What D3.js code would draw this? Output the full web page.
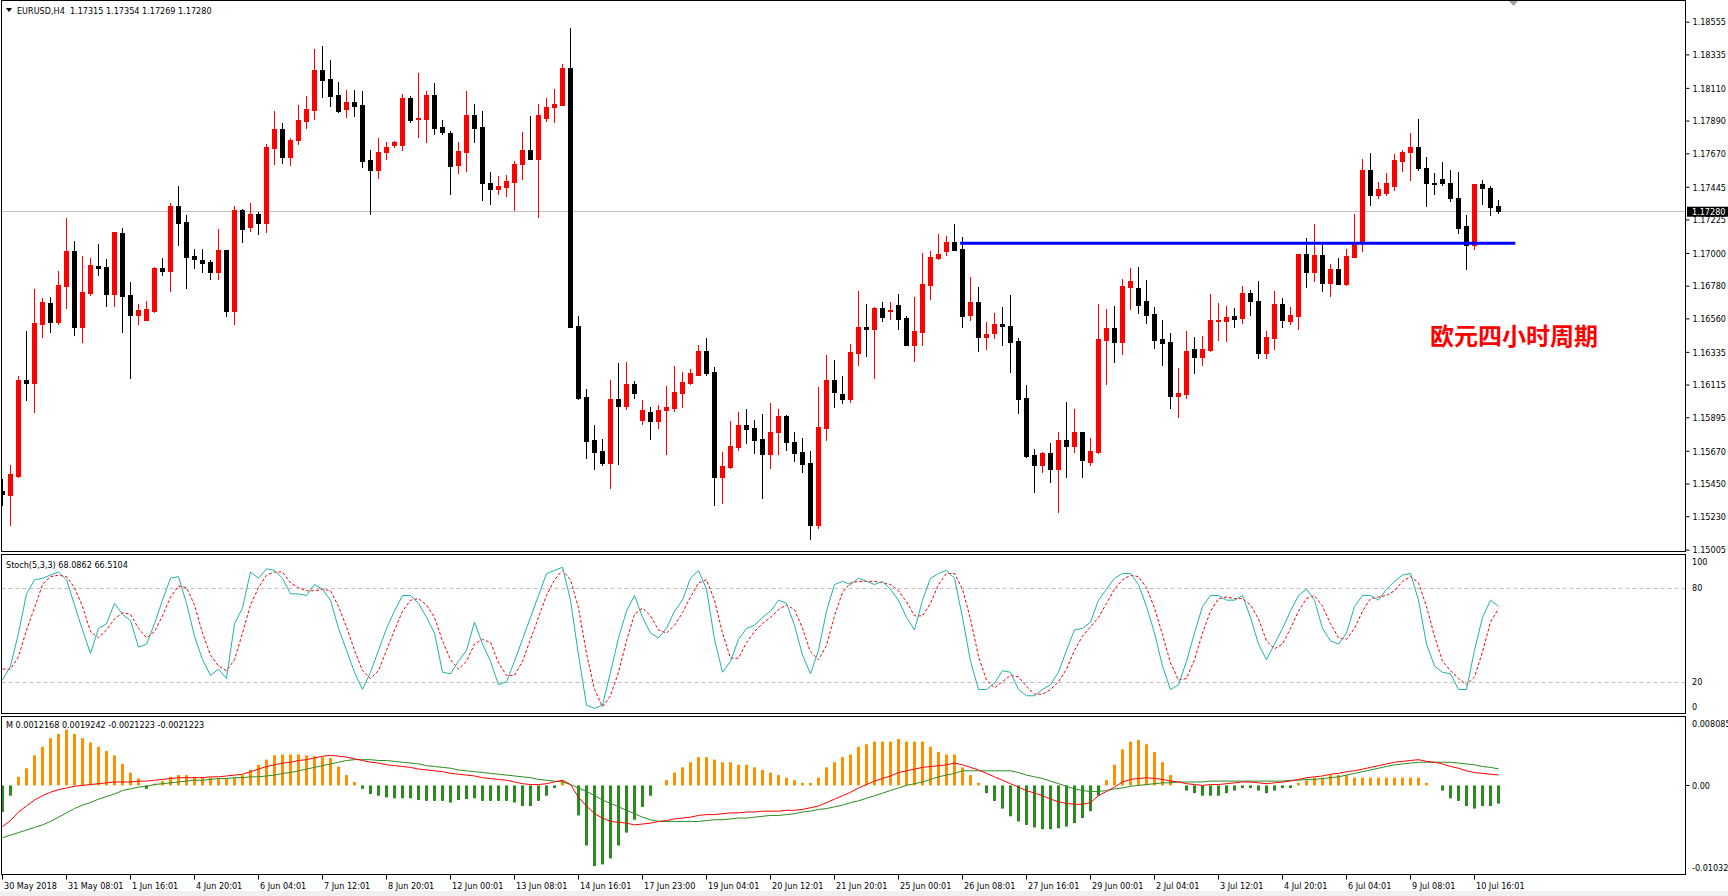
<!DOCTYPE html>
<html>
<head>
<meta charset="utf-8">
<script src="https://cdn.jsdelivr.net/npm/d3@7"></script>
<style>
  body { margin: 0; background: #fff; overflow: hidden; }
  svg text { font-family: "DejaVu Sans Condensed", "DejaVu Sans", sans-serif; font-size: 9px; fill: #000; }
</style>
</head>
<body>
<svg id="chart" width="1728" height="896"></svg>
<script>
// EURUSD H4 candles (bar 0 = 30 May 2018 00:00)
const open = [1.15401,1.15374,1.15498,1.16146,1.16127,1.16525,1.16664,1.16537,1.16778,1.17014,
  1.16505,1.16732,1.16912,1.16906,1.16726,1.17135,1.16714,1.16585,1.16550,1.16612,
  1.16898,1.16880,1.17316,1.17207,1.16980,1.16953,1.16939,1.16869,1.17021,1.16612,
  1.17289,1.17175,1.17262,1.17203,1.17707,1.17835,1.17642,1.17762,1.17889,1.17958,
  1.18230,1.18169,1.18062,1.17971,1.18014,1.17996,1.17626,1.17560,1.17676,1.17727,
  1.17727,1.18042,1.17905,1.17903,1.18062,1.17846,1.17808,1.17593,1.17680,1.17928,
  1.17846,1.17471,1.17432,1.17446,1.17480,1.17601,1.17692,1.17630,1.17910,1.17978,
  1.17998,1.18244,1.16510,1.16032,1.15742,1.15669,1.15590,1.16019,1.15973,1.16119,
  1.15874,1.15931,1.15867,1.15946,1.15960,1.16059,1.16125,1.16176,1.16341,1.16200,
  1.15496,1.15562,1.15698,1.15843,1.15823,1.15748,1.15651,1.15799,1.15903,1.15726,
  1.15662,1.15587,1.15174,1.15826,1.16146,1.16053,1.16021,1.16330,1.16503,1.16490,
  1.16631,1.16614,1.16651,1.16562,1.16378,1.16471,1.16787,1.16966,1.17010,1.17073,
  1.17028,1.16585,1.16671,1.16437,1.16464,1.16523,1.16510,1.16409,1.16026,1.15641,
  1.15571,1.15656,1.15544,1.15742,1.15705,1.15799,1.15596,1.15662,1.16417,1.16496,
  1.16403,1.16771,1.16765,1.16678,1.16589,1.16424,1.16400,1.16041,1.16053,1.16355,
  1.16303,1.16349,1.16546,1.16543,1.16576,1.16562,1.16730,1.16678,1.16330,1.16428,
  1.16657,1.16543,1.16576,1.16994,1.16871,1.16987,1.16798,1.16891,1.16792,1.16974,
  1.17067,1.17560,1.17392,1.17405,1.17450,1.17621,1.17676,1.17712,1.17573,1.17471,
  1.17498,1.17471,1.17369,1.17183,1.17055,1.17465,1.17439,1.17315];
const high = [1.15480,1.15571,1.16173,1.16475,1.16757,1.16699,1.16703,1.16878,1.17234,1.17080,
  1.16980,1.16966,1.17060,1.16959,1.17142,1.17168,1.16805,1.16657,1.16678,1.16906,
  1.16966,1.17337,1.17450,1.17256,1.17028,1.17028,1.16953,1.17162,1.17021,1.17316,
  1.17296,1.17337,1.17276,1.17732,1.17955,1.17873,1.17773,1.17996,1.18055,1.18371,
  1.18392,1.18299,1.18150,1.18096,1.18096,1.18090,1.17692,1.17773,1.17744,1.17753,
  1.18068,1.18055,1.18209,1.18090,1.18143,1.17894,1.17821,1.17746,1.18090,1.18000,
  1.17955,1.17544,1.17516,1.17523,1.17619,1.17815,1.17921,1.18000,1.18042,1.18103,
  1.18273,1.18512,1.16576,1.16085,1.15843,1.15748,1.16146,1.16259,1.16266,1.16140,
  1.16012,1.15964,1.15978,1.16105,1.16239,1.16200,1.16219,1.16380,1.16428,1.16232,
  1.15662,1.15872,1.15931,1.15951,1.15878,1.15916,1.15991,1.15951,1.15909,1.15796,
  1.15757,1.15669,1.16098,1.16314,1.16281,1.16173,1.16387,1.16744,1.16657,1.16637,
  1.16671,1.16671,1.16723,1.16576,1.16703,1.17003,1.17014,1.17128,1.17115,1.17194,
  1.17107,1.16840,1.16771,1.16537,1.16596,1.16637,1.16717,1.16428,1.16112,1.15682,
  1.15662,1.15724,1.15796,1.15999,1.15951,1.15799,1.15757,1.16657,1.16624,1.16644,
  1.16825,1.16898,1.16906,1.16818,1.16637,1.16548,1.16462,1.16226,1.16475,1.16435,
  1.16442,1.16723,1.16664,1.16644,1.16631,1.16778,1.16750,1.16812,1.16475,1.16744,
  1.16699,1.16637,1.16994,1.17100,1.17194,1.17067,1.16926,1.16966,1.17028,1.17262,
  1.17632,1.17674,1.17478,1.17537,1.17666,1.17692,1.17808,1.17901,1.17646,1.17537,
  1.17612,1.17557,1.17544,1.17256,1.17465,1.17491,1.17450,1.17354];
const low = [1.15306,1.15174,1.15494,1.16014,1.15931,1.16435,1.16471,1.16519,1.16633,1.16451,
  1.16403,1.16719,1.16849,1.16646,1.16646,1.16471,1.16162,1.16525,1.16550,1.16605,
  1.16855,1.16746,1.17055,1.16767,1.16898,1.16873,1.16827,1.16827,1.16578,1.16519,
  1.17076,1.17148,1.17130,1.17142,1.17601,1.17608,1.17593,1.17734,1.17837,1.17903,
  1.18051,1.17985,1.17951,1.17916,1.17923,1.17580,1.17264,1.17507,1.17635,1.17714,
  1.17692,1.17883,1.17782,1.17749,1.17802,1.17802,1.17399,1.17539,1.17553,1.17749,
  1.17353,1.17326,1.17394,1.17384,1.17291,1.17500,1.17630,1.17243,1.17889,1.17883,
  1.17998,1.16499,1.16021,1.15623,1.15544,1.15571,1.15421,1.15583,1.15953,1.16028,
  1.15852,1.15751,1.15826,1.15651,1.15940,1.15966,1.16119,1.16176,1.16180,1.15308,
  1.15321,1.15551,1.15678,1.15719,1.15658,1.15355,1.15555,1.15651,1.15678,1.15603,
  1.15530,1.15075,1.15148,1.15745,1.15966,1.15994,1.16001,1.16248,1.16310,1.16162,
  1.16543,1.16558,1.16492,1.16378,1.16276,1.16382,1.16692,1.16959,1.16983,1.17021,
  1.16505,1.16550,1.16344,1.16351,1.16430,1.16382,1.16202,1.15926,1.15630,1.15396,
  1.15530,1.15462,1.15260,1.15496,1.15665,1.15496,1.15571,1.15658,1.16121,1.16268,
  1.16321,1.16624,1.16598,1.16530,1.16358,1.16248,1.15960,1.15898,1.16028,1.16196,
  1.16248,1.16341,1.16417,1.16409,1.16503,1.16530,1.16585,1.16296,1.16296,1.16355,
  1.16503,1.16523,1.16490,1.16771,1.16812,1.16744,1.16710,1.16792,1.16785,1.16974,
  1.17014,1.17324,1.17371,1.17392,1.17426,1.17553,1.17491,1.17560,1.17319,1.17399,
  1.17460,1.17346,1.17135,1.16891,1.17028,1.17331,1.17253,1.17269];
const close = [1.15378,1.15515,1.16146,1.16127,1.16530,1.16671,1.16537,1.16785,1.17014,1.16505,
  1.16737,1.16919,1.16901,1.16726,1.17142,1.16712,1.16585,1.16616,1.16624,1.16898,
  1.16880,1.17316,1.17203,1.16976,1.16962,1.16935,1.16869,1.17021,1.16612,1.17289,
  1.17164,1.17262,1.17203,1.17712,1.17835,1.17642,1.17762,1.17894,1.17969,1.18230,
  1.18165,1.18057,1.17955,1.18014,1.17991,1.17621,1.17560,1.17678,1.17712,1.17744,
  1.18042,1.17896,1.17907,1.18062,1.17842,1.17810,1.17587,1.17685,1.17928,1.17842,
  1.17467,1.17432,1.17450,1.17485,1.17599,1.17692,1.17630,1.17928,1.17982,1.18000,
  1.18244,1.16499,1.16028,1.15733,1.15665,1.15590,1.16019,1.15973,1.16119,1.16059,
  1.15944,1.15867,1.15944,1.15964,1.16065,1.16132,1.16193,1.16341,1.16196,1.15496,
  1.15566,1.15703,1.15843,1.15819,1.15745,1.15651,1.15799,1.15903,1.15726,1.15658,
  1.15583,1.15174,1.15830,1.16146,1.16067,1.16021,1.16334,1.16503,1.16490,1.16631,
  1.16571,1.16618,1.16558,1.16378,1.16475,1.16792,1.16974,1.16994,1.17073,1.17021,
  1.16578,1.16671,1.16437,1.16455,1.16523,1.16510,1.16403,1.16021,1.15637,1.15576,
  1.15656,1.15544,1.15742,1.15705,1.15796,1.15610,1.15669,1.16424,1.16496,1.16403,
  1.16778,1.16812,1.16651,1.16585,1.16417,1.16396,1.16041,1.16057,1.16341,1.16303,
  1.16355,1.16548,1.16550,1.16569,1.16558,1.16730,1.16678,1.16330,1.16435,1.16657,
  1.16550,1.16582,1.16994,1.16871,1.16987,1.16798,1.16891,1.16792,1.16980,1.17073,
  1.17560,1.17392,1.17430,1.17471,1.17626,1.17680,1.17712,1.17573,1.17467,1.17467,
  1.17467,1.17371,1.17171,1.17055,1.17465,1.17435,1.17312,1.17280];

// Stoch(5,3,3)
const stochMain = [21,30,51,76,85,86,88,90,85,69, 53,38,54,57,70,63,59,42,44,57,
  72,86,87,70,49,34,24,28,22,57, 67,90,86,92,91,86,76,76,75,82,
  79,72,54,40,26,15,26,40,54,65, 75,75,70,61,51,26,25,33,40,58,
  44,33,18,20,33,47,61,75,89,91, 93,72,37,5,3,5,26,48,65,75,
  61,51,48,54,65,72,86,91,79,47, 26,33,47,54,56,61,65,72,70,56,
  37,25,40,65,82,84,82,86,84,82, 84,79,72,61,53,72,86,89,91,86,
  61,33,15,15,19,27,26,15,11,11, 15,18,26,40,53,54,58,72,79,86,
  89,89,82,68,51,30,15,18,33,51, 68,75,75,72,72,75,61,44,34,44,
  54,65,75,79,72,54,46,44,51,68, 75,75,72,79,84,88,89,72,44,30,
  26,25,15,15,40,61,72,68.0862];
const stochSignal = [28,28,36,53,67,82,87,88,87,80, 68,52,48,53,60,64,63,54,48,52,
  62,74,81,80,69,51,37,30,27,34, 51,69,80,88,90,90,83,80,78,78,
  79,78,68,55,40,27,22,27,40,53, 65,72,73,69,61,46,34,28,33,44,
  47,45,32,24,24,33,47,61,75,85, 91,85,67,38,15,4,11,26,46,63,
  67,62,53,51,56,64,74,83,85,72, 51,35,35,45,52,57,61,66,69,66,
  54,39,34,43,62,77,83,84,84,84, 83,82,78,71,62,62,70,82,89,89,
  79,60,36,21,16,20,24,23,17,12, 12,15,20,28,40,49,55,61,70,79,
  85,88,87,80,67,50,32,21,22,34, 51,65,73,74,73,73,69,60,46,41,
  44,54,65,73,75,68,57,48,47,54, 65,73,74,75,78,84,87,83,68,49,
  33,27,22,18,23,39,58,66.5104];

// MACD panel, values in units of 0.0001
const macdRed = [-48,-41,-31,-24,-17,-12,-8,-5,-3,-1, 0,1,2,3,4,4,4,5,5,6,
  7,8,9,9,9,9,10,10,11,12, 13,16,19,22,24,26,27,29,30,32,
  34,35,34,33,31,29,27,26,24,23, 22,21,19,18,17,16,14,13,12,11,
  9,8,7,6,4,2,1,1,2,4, 6,1,-14,-24,-33,-38,-42,-43,-44,-46,
  -45,-44,-42,-41,-39,-38,-37,-35,-34,-34, -33,-32,-32,-31,-31,-30,-30,-30,-29,-29,
  -28,-26,-24,-20,-16,-12,-8,-3,1,5, 8,11,15,17,19,21,22,23,24,26,
  24,21,18,14,10,6,2,-2,-6,-9, -12,-16,-19,-21,-22,-22,-20,-12,-7,-2,
  4,7,8,9,8,7,5,4,2,1, 0,1,1,2,3,4,4,3,2,3,
  4,5,7,9,10,11,13,14,16,17, 19,21,23,25,27,28,29,30,28,27,
  25,22,20,17,15,14,13,12.168];
const macdGreen = [-61,-58,-55,-52,-49,-46,-42,-37,-32,-27, -23,-20,-16,-13,-10,-6,-4,-2,-1,1,
  2,3,4,5,6,6,7,8,8,9, 9,10,10,11,12,14,15,17,19,21,
  23,25,27,29,30,30,30,29,29,28, 27,26,25,23,22,21,20,18,17,16,
  15,14,13,12,11,10,9,7,6,5, 4,1,-3,-7,-12,-17,-21,-25,-29,-33,
  -37,-40,-42,-42,-42,-42,-42,-42,-41,-40, -40,-39,-38,-38,-37,-36,-35,-35,-34,-33,
  -31,-30,-28,-27,-25,-23,-20,-18,-15,-12, -9,-6,-3,0,2,4,7,10,12,14,
  17,17,17,17,17,17,17,15,12,10, 8,5,2,-1,-4,-6,-7,-7,-6,-4,
  -3,-1,0,1,2,3,3,4,4,4, 4,5,5,5,5,5,5,5,5,5,
  5,6,6,7,7,8,9,10,12,14, 16,18,20,22,24,25,26,27,27,27,
  27,27,26,25,24,22,21,19.242];
const macdHist = [-31,-12,10,20,35,45,55,60,65,60, 55,50,45,40,35,25,15,8,-4,2,
  5,10,12,12,10,9,9,8,8,9, 12,18,24,30,35,36,36,36,35,34,
  33,32,22,12,4,-4,-10,-12,-14,-15, -15,-15,-17,-18,-18,-18,-20,-17,-16,-15,
  -18,-18,-18,-18,-20,-24,-24,-18,-12,-3, 6,0,-35,-70,-94,-92,-85,-70,-55,-40,
  -25,-12,0,6,15,21,27,33,33,30, 27,27,24,24,21,18,15,12,9,6,
  3,3,9,21,27,33,36,45,48,51, 51,51,54,51,51,51,45,39,36,36,
  21,12,3,-9,-18,-27,-36,-42,-46,-49, -51,-51,-50,-48,-44,-38,-30,-12,6,24,
  42,51,53,48,39,27,12,0,-6,-9, -12,-12,-12,-9,-6,-3,-3,-6,-9,-6,
  -3,-3,3,6,9,9,12,12,12,9, 9,9,9,9,9,9,9,9,3,0,
  -6,-15,-18,-24,-27,-24,-24,-21.223];

const priceTicks = [1.18555,1.18335,1.18110,1.17890,1.17670,1.17445,1.17225,1.17000,1.16780,
  1.16560,1.16335,1.16115,1.15895,1.15670,1.15450,1.15230,1.15005];
const timeLabels = ["30 May 2018","31 May 08:01","1 Jun 16:01","4 Jun 20:01","6 Jun 04:01",
  "7 Jun 12:01","8 Jun 20:01","12 Jun 00:01","13 Jun 08:01","14 Jun 16:01","17 Jun 23:00",
  "19 Jun 04:01","20 Jun 12:01","21 Jun 20:01","25 Jun 00:01","26 Jun 08:01","27 Jun 16:01",
  "29 Jun 00:01","2 Jul 04:01","3 Jul 12:01","4 Jul 20:01","6 Jul 04:01","9 Jul 08:01","10 Jul 16:01"];
const lastPrice = 1.17280;
const levelLine = { price: 1.17066, from: 119.7, to: 189.1 };

const n = Math.min(open.length, high.length, low.length, close.length);
const bars = d3.range(n).map(i => ({ i, o: open[i], h: high[i], l: low[i], c: close[i] }));

const svg = d3.select("#chart");
const L = 1.5, R = 1685.5;
const panels = {
  main: { top: 0.5, bottom: 551.5 },
  stoch: { top: 554.5, bottom: 713.5 },
  macd: { top: 716.5, bottom: 874.5 }
};

const x = d3.scaleLinear().domain([0, 1]).range([2.5, 10.5]);
const yPrice = d3.scaleLinear().domain([1.14996, 1.18694]).range([551, 1]);
const yStoch = d3.scaleLinear().domain([0, 100]).range([713, 556.3]);
const yMacd = d3.scaleLinear().domain([-0.010322, 0.008085]).range([874, 716]);

svg.append("rect").attr("x", 0).attr("y", 891).attr("width", 1728).attr("height", 5).attr("fill", "#f0f0f0");

// clip regions
const defs = svg.append("defs");
Object.entries(panels).forEach(([k, p]) => {
  defs.append("clipPath").attr("id", "clip-" + k)
    .append("rect").attr("x", L + 0.5).attr("y", p.top + 0.5)
    .attr("width", R - L - 1).attr("height", p.bottom - p.top - 1);
});

// ---- main panel
const gMain = svg.append("g").attr("clip-path", "url(#clip-main)");
const yLast = yPrice(lastPrice);

gMain.append("line")
  .attr("x1", L).attr("x2", R)
  .attr("y1", Math.round(yLast) + 0.5).attr("y2", Math.round(yLast) + 0.5)
  .attr("stroke", "#c0c0c0");

const candle = gMain.selectAll("g.candle").data(bars).enter().append("g").attr("class", "candle")
  .attr("fill", d => d.c >= d.o ? "#ff0000" : "#000000")
  .attr("stroke", d => d.c >= d.o ? "#ff0000" : "#000000");

candle.append("line")
  .attr("x1", d => x(d.i)).attr("x2", d => x(d.i))
  .attr("y1", d => Math.round(yPrice(d.h))).attr("y2", d => Math.round(yPrice(d.l)) + 1)
  .attr("stroke-width", 1);

candle.append("rect")
  .attr("stroke", "none")
  .attr("x", d => x(d.i) - 2.5)
  .attr("width", 5)
  .attr("y", d => Math.round(yPrice(Math.max(d.o, d.c))))
  .attr("height", d => Math.max(2, Math.round(yPrice(Math.min(d.o, d.c))) - Math.round(yPrice(Math.max(d.o, d.c))) + 1));

gMain.append("line")
  .attr("x1", x(levelLine.from)).attr("x2", x(levelLine.to))
  .attr("y1", yPrice(levelLine.price)).attr("y2", yPrice(levelLine.price))
  .attr("stroke", "#0000ff").attr("stroke-width", 3);

svg.append("text")
  .attr("x", 1430).attr("y", 345)
  .style("font-family", "'Noto Sans CJK SC', sans-serif")
  .style("font-size", "24px").style("font-weight", "bold")
  .style("fill", "#ff0000")
  .text("欧元四小时周期");

// header
svg.append("path").attr("d", "M6,8 L12,8 L9,12 Z").attr("fill", "#000");
svg.append("text").attr("x", 17).attr("y", 13.5).attr("xml:space", "preserve")
  .text("EURUSD,H4  1.17315 1.17354 1.17269 1.17280");
svg.append("path").attr("d", "M1509,1 L1518,1 L1513.5,6 Z").attr("fill", "#a0a0a0");

// price axis
const priceAxis = d3.axisRight(yPrice).tickValues(priceTicks).tickFormat(d3.format(".5f"))
  .tickSize(4).tickSizeOuter(0).tickPadding(3);
const gPA = svg.append("g").attr("transform", `translate(${R},0)`).call(priceAxis);
gPA.select(".domain").remove();
gPA.attr("font-family", null).attr("font-size", null);
gPA.selectAll("text").attr("dy", "0.36em");

// current price tag
svg.append("rect").attr("x", 1687).attr("y", yLast - 4.6).attr("width", 41).attr("height", 10).attr("fill", "#000");
svg.append("text").attr("x", 1692).attr("y", yLast + 3.8).style("fill", "#fff").text(d3.format(".5f")(lastPrice));

// ---- stochastic
const gSt = svg.append("g").attr("clip-path", "url(#clip-stoch)");
[80, 20].forEach(v => {
  gSt.append("line").attr("x1", L).attr("x2", R)
    .attr("y1", Math.round(yStoch(v)) + 0.5).attr("y2", Math.round(yStoch(v)) + 0.5)
    .attr("stroke", "#c0c0c0").attr("stroke-dasharray", "4,3");
});
const stLine = d3.line().x((d, i) => x(i)).y(d => yStoch(d));
gSt.append("path").datum(stochSignal).attr("d", stLine)
  .attr("fill", "none").attr("stroke", "#ff0000").attr("stroke-dasharray", "3,2");
gSt.append("path").datum(stochMain).attr("d", stLine)
  .attr("fill", "none").attr("stroke", "#20b2aa");

svg.append("text").attr("x", 6).attr("y", 567.5)
  .text(`Stoch(5,3,3) ${stochMain[stochMain.length - 1].toFixed(4)} ${stochSignal[stochSignal.length - 1].toFixed(4)}`);
[[100, 565], [80, null], [20, null], [0, 710]].forEach(([v, yy]) => {
  svg.append("text").attr("x", 1692).attr("y", (yy || yStoch(v) + 3)).text(v);
});

// ---- MACD
const gM = svg.append("g").attr("clip-path", "url(#clip-macd)");
const hist = macdHist.map(v => v / 1e4);
gM.selectAll("rect.h").data(hist).enter().append("rect").attr("class", "h")
  .attr("x", (d, i) => x(i) - 1.5).attr("width", 3)
  .attr("y", d => Math.min(yMacd(d), yMacd(0)))
  .attr("height", d => Math.abs(yMacd(d) - yMacd(0)))
  .attr("fill", d => d >= 0 ? "#ff9000" : "#2a8c1e");
const mLine = d3.line().x((d, i) => x(i)).y(d => yMacd(d / 1e4));
gM.append("path").datum(macdGreen).attr("d", mLine).attr("fill", "none").attr("stroke", "#2a8c1e");
gM.append("path").datum(macdRed).attr("d", mLine).attr("fill", "none").attr("stroke", "#ff0000");

const f7 = v => (v / 1e4).toFixed(7);
svg.append("text").attr("x", 6).attr("y", 727.5)
  .text(`M ${f7(macdRed[macdRed.length - 1])} ${f7(macdGreen[macdGreen.length - 1])} ${f7(macdHist[macdHist.length - 1])} ${f7(macdHist[macdHist.length - 1])}`);
svg.append("text").attr("x", 1692).attr("y", 726.5).text("0.008085");
svg.append("text").attr("x", 1692).attr("y", yMacd(0) + 3.5).text("0.00");
svg.append("line").attr("x1", R).attr("x2", R + 4).attr("y1", Math.round(yMacd(0)) + 0.5).attr("y2", Math.round(yMacd(0)) + 0.5).attr("stroke", "#000");
svg.append("text").attr("x", 1692).attr("y", 871).text("-0.010322");

// panel frames
Object.values(panels).forEach(p => {
  svg.append("rect").attr("x", L).attr("y", p.top).attr("width", R - L).attr("height", p.bottom - p.top)
    .attr("fill", "none").attr("stroke", "#000");
});

// time axis
const tickBars = timeLabels.map((t, k) => 8 * k);
const timeAxis = d3.axisBottom(x).tickValues(tickBars).tickFormat((d, k) => timeLabels[k])
  .tickSize(5).tickSizeOuter(0).tickPadding(3);
const gTA = svg.append("g").attr("transform", `translate(-0.5,${panels.macd.bottom})`).call(timeAxis);
gTA.select(".domain").remove();
gTA.attr("font-family", null).attr("font-size", null);
gTA.selectAll("text").attr("text-anchor", "start").attr("x", 1.5);
</script>
</body>
</html>
